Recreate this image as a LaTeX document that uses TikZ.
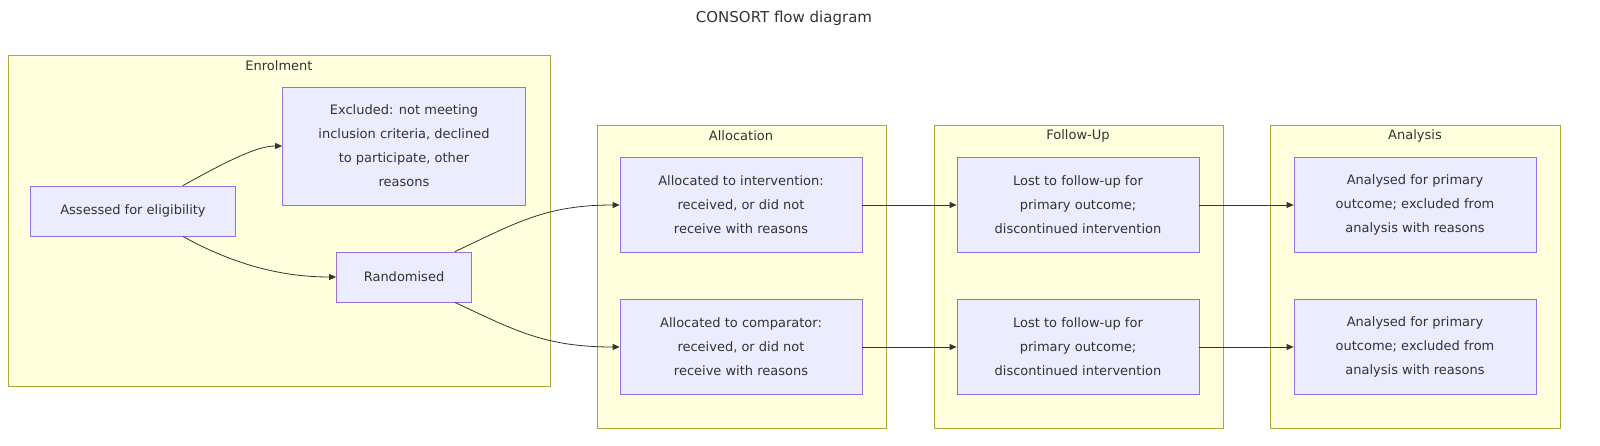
\documentclass[tikz,border=0pt]{standalone}
\usepackage{fontspec}
\setmainfont{DejaVu Sans}
\usetikzlibrary{arrows.meta}
\definecolor{clfill}{HTML}{FFFFDE}
\definecolor{cldraw}{HTML}{AAAA33}
\definecolor{ndfill}{HTML}{ECECFF}
\definecolor{nddraw}{HTML}{9370DB}
\definecolor{edge}{HTML}{333333}
\begin{document}
\begin{tikzpicture}[x=1pt,y=-1pt,
  cluster/.style={draw=cldraw,fill=clfill,line width=0.8pt},
  cltitle/.style={font=\fontsize{13}{16}\selectfont,text=edge},
  box/.style={draw=nddraw,fill=ndfill,line width=0.8pt,align=center,inner sep=0pt,
    font=\fontsize{13}{24}\selectfont,text=edge},
  conn/.style={draw=edge,line width=0.8pt,-{Triangle[length=7pt,width=6pt]}}]
\useasboundingbox (0,0) rectangle (1600,445);
\node[font=\fontsize{15}{18}\selectfont,text=edge] (title) at (784,18) {CONSORT flow diagram};
% clusters
\draw[cluster] (8,55) rectangle (550,386);
\node[cltitle] (t1) at (279,66) {Enrolment};
\draw[cluster] (597,125) rectangle (886,428);
\node[cltitle] (t2) at (741,136) {Allocation};
\draw[cluster] (934,125) rectangle (1223,428);
\node[cltitle] (t3) at (1078,136) {Follow-Up};
\draw[cluster] (1270,125) rectangle (1560,428);
\node[cltitle] (t4) at (1415,136) {Analysis};
% nodes
\node[box,minimum width=205,minimum height=50] (assess) at (133,211) {Assessed for eligibility};
\node[box,minimum width=243,minimum height=118] (excl) at (404,146) {Excluded: not meeting\\inclusion criteria, declined\\to participate, other\\reasons};
\node[box,minimum width=135,minimum height=50] (rand) at (404,277) {Randomised};
\node[box,minimum width=242,minimum height=95] (ai) at (741,205) {Allocated to intervention:\\received, or did not\\receive with reasons};
\node[box,minimum width=242,minimum height=95] (ac) at (741,347) {Allocated to comparator:\\received, or did not\\receive with reasons};
\node[box,minimum width=242,minimum height=95] (li) at (1078,205) {Lost to follow-up for\\primary outcome;\\discontinued intervention};
\node[box,minimum width=242,minimum height=95] (lc) at (1078,347) {Lost to follow-up for\\primary outcome;\\discontinued intervention};
\node[box,minimum width=242,minimum height=95] (ni) at (1415,205) {Analysed for primary\\outcome; excluded from\\analysis with reasons};
\node[box,minimum width=242,minimum height=95] (nc) at (1415,347) {Analysed for primary\\outcome; excluded from\\analysis with reasons};
% edges
\draw[conn] ([xshift=-53pt]assess.north east) .. controls +(45,-25) and +(-25,0) .. (excl.west);
\draw[conn] ([xshift=-53pt]assess.south east) .. controls +(45,25) and +(-60,0) .. (rand.west);
\draw[conn] ([xshift=-17pt]rand.north east) .. controls +(60,-28) and +(-75,0) .. (ai.west);
\draw[conn] ([xshift=-17pt]rand.south east) .. controls +(60,28) and +(-75,0) .. (ac.west);
\draw[conn] (ai) -- (li);
\draw[conn] (ac) -- (lc);
\draw[conn] (li) -- (ni);
\draw[conn] (lc) -- (nc);
\end{tikzpicture}
\end{document}
